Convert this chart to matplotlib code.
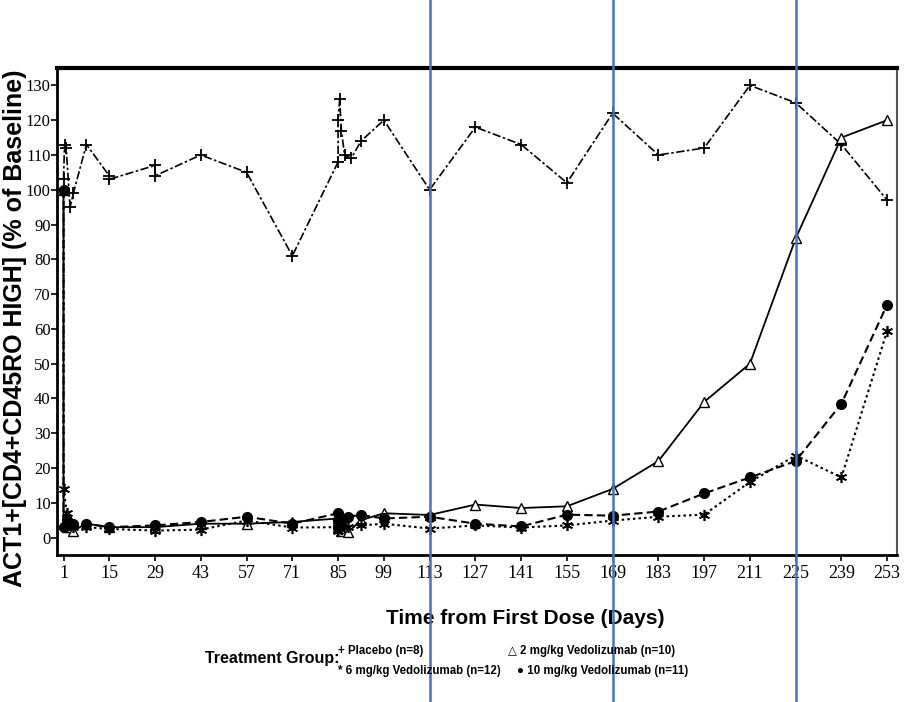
import matplotlib
matplotlib.use('Agg')
from matplotlib import pyplot as plt

# placebo (+, dash-dot)
days_pbo = [1, 1.3, 1.8, 3, 4, 8, 15, 15, 29, 29, 43, 57, 71, 85, 85, 85.5, 86, 87, 89, 92, 99,
            113, 127, 141, 155, 169, 183, 197, 211, 225, 239, 253]
val_pbo = [103, 113, 112, 95, 99, 113, 104, 103, 107, 104, 110, 105, 81, 108, 120, 126, 117, 110, 109, 114, 120,
           100, 118, 113, 102, 122, 110, 112, 130, 125, 113, 97]

# 2 mg/kg (open triangle, solid)
days_2mg = [1, 1, 2, 3, 4, 8, 15, 29, 43, 57, 71, 85, 85, 86, 88, 92, 99,
            113, 127, 141, 155, 169, 183, 197, 211, 225, 239, 253]
val_2mg = [100, 4, 3, 3, 2, 4, 3, 3, 4, 4, 4.5, 5.5, 3, 2, 1.5, 5, 7,
           6.5, 9.5, 8.5, 9, 14, 22, 39, 50, 86, 115, 120]

# 6 mg/kg (star, dotted)
days_6mg = [1, 1, 2, 3, 4, 8, 15, 29, 43, 57, 71, 85, 85, 86, 88, 92, 99,
            113, 127, 141, 155, 169, 183, 197, 211, 225, 239, 253]
val_6mg = [100, 14, 7, 4, 3, 3, 2.5, 2, 2.3, 4.9, 2.9, 3, 2, 2.5, 3, 3.5, 4,
           2.6, 3.5, 2.9, 3.5, 4.9, 6, 6.6, 16, 23.6, 17.3, 59.5]

# 10 mg/kg (filled circle, dashed)
days_10mg = [1, 1, 2, 3, 4, 8, 15, 29, 43, 57, 71, 85, 85, 85, 86, 88, 92, 99,
             113, 127, 141, 155, 169, 183, 197, 211, 225, 239, 253]
val_10mg = [100, 3, 5, 4, 4, 4, 3, 3.5, 4.5, 6, 4, 7, 5, 3, 4, 6, 6.5, 5.5,
            6, 4, 3.2, 6.6, 6.3, 7.5, 12.7, 17.3, 22, 38.5, 67]

xticks = list(range(1, 254, 14))
yticks = list(range(0, 131, 10))
marks = [113, 169, 225]

fig = plt.figure(figsize=(9.09, 7.02), dpi=100)
ax = fig.add_axes([57 / 909, 1 - 555 / 702, 840 / 909, 487 / 702])

ax.plot(days_pbo, val_pbo, color='black', lw=1.2, linestyle=(0, (5, 1.5, 1.5, 1.5)),
        marker='+', ms=9, mew=1.3)
ax.plot(days_2mg, val_2mg, color='black', lw=1.3, linestyle='-',
        marker='^', ms=7, mfc='white', mew=1.0)
ax.plot(days_6mg, val_6mg, color='black', lw=1.5, linestyle=(0, (1.2, 1.5)),
        marker=(6, 2, 0), ms=8, mew=1.2)
ax.plot(days_10mg, val_10mg, color='black', lw=1.5, linestyle=(0, (4, 2)),
        marker='o', ms=7, mfc='black')

ax.set_xlim(-1, 256)
ax.set_ylim(-5, 135)
ax.set_xticks(xticks)
ax.set_yticks(yticks)
ax.tick_params(direction='out', length=4, width=1.2, labelsize=13)
ax.tick_params(axis='y', pad=0.5, labelsize=12)
for lab in ax.get_xticklabels() + ax.get_yticklabels():
    lab.set_family('Liberation Serif')

for s in ['left', 'bottom']:
    ax.spines[s].set_linewidth(2)
ax.spines['top'].set_linewidth(3)
ax.spines['right'].set_linewidth(1.5)
ax.spines['right'].set_color('#555555')

ax.set_ylabel('ACT1+[CD4+CD45RO HIGH] (% of Baseline)', fontsize=18, fontweight='bold',
              family='Liberation Sans')
ax.yaxis.set_label_coords(-0.036, 0.466)
ax.set_xlabel('Time from First Dose (Days)', fontsize=15, fontweight='bold',
              family='Liberation Sans')
ax.xaxis.set_label_coords((525 - 57) / 840, -0.11)

# blue reference lines
for m in marks:
    ax.axvline(m, ymin=-0.31, ymax=1.15, color='#4472C4', lw=1.8, clip_on=False, zorder=10)

fams = ['Liberation Sans', 'DejaVu Sans']
fig.text(205 / 909, 1 - 659 / 702, 'Treatment Group:', fontsize=11.5, fontweight='bold',
         family=fams, va='center', ha='left')
fig.text(338 / 909, 1 - 651 / 702, '+ Placebo (n=8)', fontsize=8.3, fontweight='bold',
         family=fams, va='center', ha='left')
fig.text(508 / 909, 1 - 651 / 702, '\u25b3 2 mg/kg Vedolizumab (n=10)', fontsize=8.3,
         fontweight='bold', family=fams, va='center', ha='left')
fig.text(338 / 909, 1 - 671 / 702, '* 6 mg/kg Vedolizumab (n=12)', fontsize=8.3,
         fontweight='bold', family=fams, va='center', ha='left')
fig.text(517 / 909, 1 - 671 / 702, '\u25cf 10 mg/kg Vedolizumab (n=11)', fontsize=8.3,
         fontweight='bold', family=fams, va='center', ha='left')

plt.savefig('out.png', dpi=100)
